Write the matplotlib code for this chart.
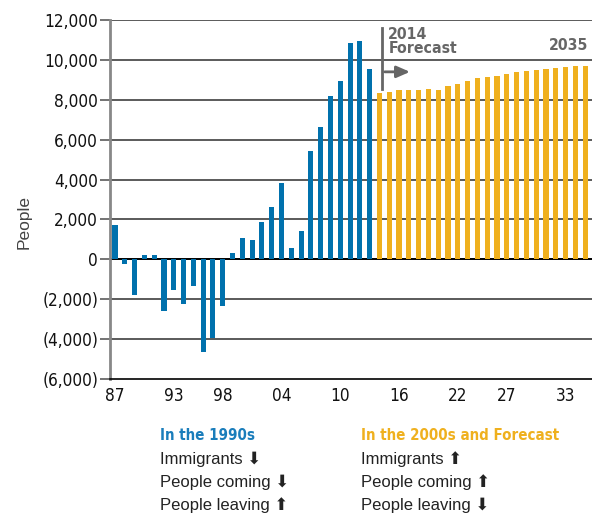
import matplotlib
matplotlib.use("Agg")
import matplotlib.pyplot as plt
import numpy as np

# ---- data ----
hist_years = list(range(1987, 2014))
hist_values = [1700, -250, -1800, 200, 200, -2600, -1550, -2250, -1350, -4650,
               -3950, -2350, 300, 1050, 950, 1850, 2600, 3850, 550, 1400,
               5450, 6650, 8200, 8950, 10850, 10950, 9550]
fc_years = list(range(2014, 2036))
fc_values = [8330, 8400, 8480, 8500, 8500, 8550, 8500, 8700, 8800, 8950, 9100,
             9150, 9200, 9300, 9400, 9450, 9500, 9550, 9600, 9650, 9700, 9700]
y_ticks = [-6000, -4000, -2000, 0, 2000, 4000, 6000, 8000, 10000, 12000]
y_tick_labels = ["(6,000)", "(4,000)", "(2,000)", "0", "2,000", "4,000",
                 "6,000", "8,000", "10,000", "12,000"]
x_ticks = [1987, 1993, 1998, 2004, 2010, 2016, 2022, 2027, 2033]
x_tick_labels = ["87", "93", "98", "04", "10", "16", "22", "27", "33"]

BLUE = "#0071AD"
ORANGE = "#EFB01E"
GRAY = "#666666"
REG = ["Liberation Sans", "DejaVu Sans"]
CK = dict(family="DejaVu Sans", stretch="condensed")

fig = plt.figure(figsize=(5.92, 5.17), dpi=100)
ax = fig.add_axes([110/592, 1 - 379/517, 482/592, 359/517])

ax.bar(hist_years, hist_values, width=0.52, color=BLUE, zorder=3)
ax.bar(fc_years, fc_values, width=0.52, color=ORANGE, zorder=3)

ax.set_xlim(1986.49, 2035.7)
ax.set_ylim(-6000, 12000)

for v in y_ticks:
    if v == -6000:
        continue
    ax.axhline(v, color="#000000" if v == 0 else "#4d4d4d",
               lw=1.4 if v == 0 else 1.3, zorder=1)

ax.set_yticks(y_ticks)
ax.set_yticklabels(y_tick_labels, fontsize=12.3, color="#111111", **CK)
ax.tick_params(axis="y", length=7, width=1.1, color="#4d4d4d", pad=1.5)
ax.set_xticks(x_ticks)
ax.set_xticklabels(x_tick_labels, fontsize=12.3, color="#111111", **CK)
ax.tick_params(axis="x", length=0, pad=6)

for s in ["top", "right"]:
    ax.spines[s].set_visible(False)
ax.spines["left"].set_color("#888888")
ax.spines["left"].set_linewidth(2)
ax.spines["bottom"].set_color("#000000")
ax.spines["bottom"].set_linewidth(1.2)

fig.text(24/592, 1 - 222/517, "People", family=REG, fontsize=12.5, color="#444444",
         rotation=90, va="center", ha="center")

# forecast marker
ax.plot([2014.25, 2014.25], [11600, 8550], color=GRAY, lw=2, zorder=4)
ax.annotate("", xy=(2017.4, 9400), xytext=(2014.25, 9400),
            arrowprops=dict(arrowstyle="-|>,head_length=0.8,head_width=0.35",
                            color=GRAY, lw=2), zorder=4)
ax.text(2014.9, 11650, "2014\nForecast", fontsize=11.3,
        fontweight="bold", color=GRAY, va="top", ha="left", linespacing=0.95, **CK)
ax.text(2035.3, 10720, "2035", fontsize=11.3, fontweight="bold",
        color=GRAY, va="center", ha="right", **CK)

# legend text
def ft(x, y, s, **kw):
    fig.text(x/592, 1 - y/517, s, va="center", ha="left", **kw)

ft(160, 436, "In the 1990s", fontsize=10.8, fontweight="bold", color="#1a7dbb", **CK)
ft(160, 459, "Immigrants ⬇", family=REG, fontsize=12, color="#222222")
ft(160, 482, "People coming ⬇", family=REG, fontsize=12, color="#222222")
ft(160, 505, "People leaving ⬆", family=REG, fontsize=12, color="#222222")
ft(361, 436, "In the 2000s and Forecast", fontsize=10.8, fontweight="bold", color=ORANGE, **CK)
ft(361, 459, "Immigrants ⬆", family=REG, fontsize=12, color="#222222")
ft(361, 482, "People coming ⬆", family=REG, fontsize=12, color="#222222")
ft(361, 505, "People leaving ⬇", family=REG, fontsize=12, color="#222222")

fig.savefig("out.png", dpi=100)
